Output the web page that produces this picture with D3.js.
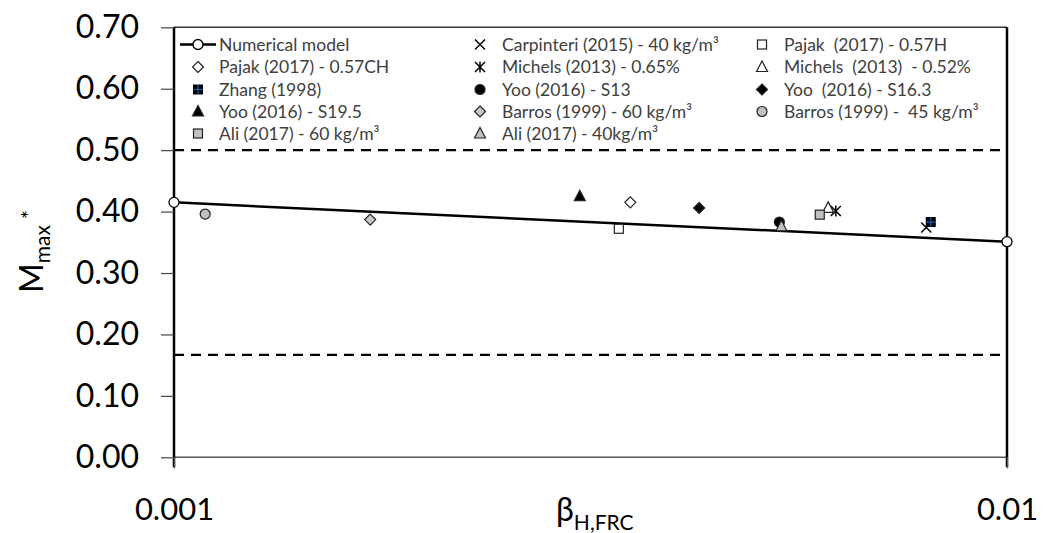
<!DOCTYPE html>
<html>
<head>
<meta charset="utf-8">
<script src="https://cdn.jsdelivr.net/npm/d3@7"></script>
<style>
  html, body { margin: 0; padding: 0; background: #fff; }
  svg { display: block; font-family: Lato, "Open Sans", sans-serif; }
  text { white-space: pre; }
</style>
</head>
<body>
<svg id="chart" width="1057" height="533"></svg>
<script>
// ---- data ----
const modelX = [0.001, 0.01];
const modelY = [0.415, 0.351];
const limitUpper = 0.50;
const limitLower = 1 / 6;

const seriesNames = [
  "Carpinteri (2015) - 40 kg/m³", "Pajak  (2017) - 0.57H",
  "Pajak (2017) - 0.57CH", "Michels (2013) - 0.65%", "Michels  (2013)  - 0.52%",
  "Zhang (1998)", "Yoo (2016) - S13", "Yoo  (2016) - S16.3",
  "Yoo (2016) - S19.5", "Barros (1999) - 60 kg/m³", "Barros (1999) -  45 kg/m³",
  "Ali (2017) - 60 kg/m³", "Ali (2017) - 40kg/m³"
];
const seriesBeta = [0.00800, 0.00342, 0.00353, 0.00623, 0.00610, 0.00810, 0.00533,
                    0.00427, 0.00307, 0.00172, 0.00109, 0.00596, 0.00536];
const seriesM =    [0.374, 0.372, 0.415, 0.401, 0.406, 0.383, 0.383,
                    0.406, 0.425, 0.387, 0.396, 0.395, 0.376];
const seriesShape = ["times", "square", "diamond", "asterisk", "triangle", "zhang", "circle",
                     "diamond", "triangle", "diamond", "circle", "square", "triangle"];
const seriesFill =  ["none", "#fff", "#fff", "none", "#fff", "#000", "#000",
                     "#000", "#000", "#c8c8c8", "#c0c0c0", "#c0c0c0", "#c0c0c0"];

// legend order (row-major, three columns)
const legendOrder = [null, 0, 1, 2, 3, 4, 5, 6, 7, 8, 9, 10, 11, 12];

const yTicks = [0, 0.1, 0.2, 0.3, 0.4, 0.5, 0.6, 0.7];
const xTicks = [0.001, 0.01];

// ---- layout ----
const svg = d3.select("#chart");
const L = 174, R = 1007, T = 27.3, B = 457.3;
const x = d3.scaleLog().domain([0.001, 0.01]).range([L, R]);
const y = d3.scaleLinear().domain([0, 0.7]).range([B, T]);

// frame
svg.append("line").attr("x1", L).attr("x2", R).attr("y1", T).attr("y2", T)
  .attr("stroke", "#333").attr("stroke-width", 1.5);
svg.append("line").attr("x1", L).attr("x2", R).attr("y1", B).attr("y2", B)
  .attr("stroke", "#555").attr("stroke-width", 1.5);
svg.append("line").attr("x1", R).attr("x2", R).attr("y1", T).attr("y2", B + 10)
  .attr("stroke", "#000").attr("stroke-width", 2.5);

// y axis
const yAxis = d3.axisLeft(y).tickValues(yTicks).tickFormat(d3.format(".2f"))
  .tickSize(13).tickPadding(22);
const gy = svg.append("g").attr("transform", `translate(${L},0)`).call(yAxis);
gy.select(".domain").attr("stroke", "#000").attr("stroke-width", 2.5)
  .attr("d", `M0,${T}V${B + 10}`);
gy.selectAll(".tick line").attr("stroke", "#444").attr("stroke-width", 1.2);
gy.selectAll(".tick text").attr("font-size", 32).attr("fill", "#000")
  .attr("font-family", "Lato, sans-serif");

// x axis
const xAxis = d3.axisBottom(x).tickValues(xTicks).tickFormat(d => String(d))
  .tickSize(11).tickPadding(30);
const gx = svg.append("g").attr("transform", `translate(0,${B})`).call(xAxis);
gx.select(".domain").remove();
gx.selectAll(".tick line").attr("stroke", "#555").attr("stroke-width", 1.2);
gx.selectAll(".tick text").attr("font-size", 31).attr("fill", "#000")
  .attr("font-family", "Lato, sans-serif");

// axis titles
const xt = svg.append("text").attr("x", 556).attr("y", 521)
  .attr("font-size", 32).attr("fill", "#000");
xt.append("tspan").text("β");
xt.append("tspan").attr("font-size", 21).attr("dy", 9).text("H,FRC");

const yt = svg.append("text")
  .attr("transform", `translate(43,293) rotate(-90)`)
  .attr("font-size", 32).attr("fill", "#000");
yt.append("tspan").text("M");
yt.append("tspan").attr("font-size", 21).attr("dy", 7).text("max");
yt.append("tspan").attr("font-size", 21).attr("dy", -13).attr("dx", 6).text("*");

// dashed limits
[limitUpper, limitLower].forEach(v => {
  svg.append("line").attr("x1", L).attr("x2", R).attr("y1", y(v)).attr("y2", y(v))
    .attr("stroke", "#000").attr("stroke-width", 2.2).attr("stroke-dasharray", "10,7");
});

// marker drawing
function drawMarker(g, shape, fill, cx, cy) {
  const s = g.append("g").attr("transform", `translate(${cx},${cy})`);
  const st = "#000";
  if (shape === "circle") {
    s.append("circle").attr("r", 5).attr("fill", fill).attr("stroke", "#222").attr("stroke-width", 1.2);
  } else if (shape === "square") {
    s.append("rect").attr("x", -4.5).attr("y", -4.5).attr("width", 9).attr("height", 9)
      .attr("fill", fill).attr("stroke", "#222").attr("stroke-width", 1.2);
  } else if (shape === "diamond") {
    s.append("path").attr("d", "M0,-5.5L5.5,0L0,5.5L-5.5,0Z")
      .attr("fill", fill).attr("stroke", "#222").attr("stroke-width", 1.2);
  } else if (shape === "triangle") {
    s.append("path").attr("d", "M0,-6L5.5,4.5L-5.5,4.5Z")
      .attr("fill", fill).attr("stroke", "#222").attr("stroke-width", 1.2);
  } else if (shape === "times") {
    s.append("path").attr("d", "M-5,-5L5,5M5,-5L-5,5")
      .attr("stroke", st).attr("stroke-width", 1.5).attr("fill", "none");
  } else if (shape === "asterisk") {
    s.append("path").attr("d", "M-5,-5L5,5M5,-5L-5,5M0,-5.5V5.5")
      .attr("stroke", st).attr("stroke-width", 1.5).attr("fill", "none");
  } else if (shape === "zhang") {
    s.append("rect").attr("x", -5).attr("y", -5).attr("width", 10).attr("height", 10).attr("fill", "#000");
    s.append("path").attr("d", "M0,-4.5V4.5M-4.5,0H4.5")
      .attr("stroke", "#1060c0").attr("stroke-width", 1.2);
  }
}

// numerical model
const line = d3.line().x(d => x(d[0])).y(d => y(d[1]));
const modelPts = modelX.map((v, i) => [v, modelY[i]]);
svg.append("path").datum(modelPts).attr("d", line)
  .attr("fill", "none").attr("stroke", "#000").attr("stroke-width", 2.5);
modelPts.forEach(p => {
  svg.append("circle").attr("cx", x(p[0])).attr("cy", y(p[1])).attr("r", 5)
    .attr("fill", "#fff").attr("stroke", "#000").attr("stroke-width", 1.3);
});

// experimental points
const pts = svg.append("g");
seriesNames.forEach((n, i) => {
  drawMarker(pts, seriesShape[i], seriesFill[i], x(seriesBeta[i]), y(seriesM[i]));
});

// legend
const colMarkerX = [198, 480, 762];
const colTextX = [219, 502, 784];
const rowY = [44.5, 67, 89.5, 111.5, 133.5];
const lg = svg.append("g");
legendOrder.forEach((idx, k) => {
  const col = k % 3, row = Math.floor(k / 3);
  const cy = rowY[row];
  if (idx === null) {
    lg.append("line").attr("x1", 180).attr("x2", 216).attr("y1", cy).attr("y2", cy)
      .attr("stroke", "#000").attr("stroke-width", 2.5);
    lg.append("circle").attr("cx", 198).attr("cy", cy).attr("r", 5)
      .attr("fill", "#fff").attr("stroke", "#000").attr("stroke-width", 1.3);
    lg.append("text").attr("x", colTextX[col]).attr("y", cy).attr("dy", "0.35em")
      .attr("font-size", 17.5).attr("fill", "#404040").text("Numerical model");
  } else {
    drawMarker(lg, seriesShape[idx], seriesFill[idx], colMarkerX[col], cy);
    lg.append("text").attr("x", colTextX[col]).attr("y", cy).attr("dy", "0.35em")
      .attr("font-size", 17.5).attr("fill", "#404040").text(seriesNames[idx]);
  }
});
</script>
</body>
</html>
